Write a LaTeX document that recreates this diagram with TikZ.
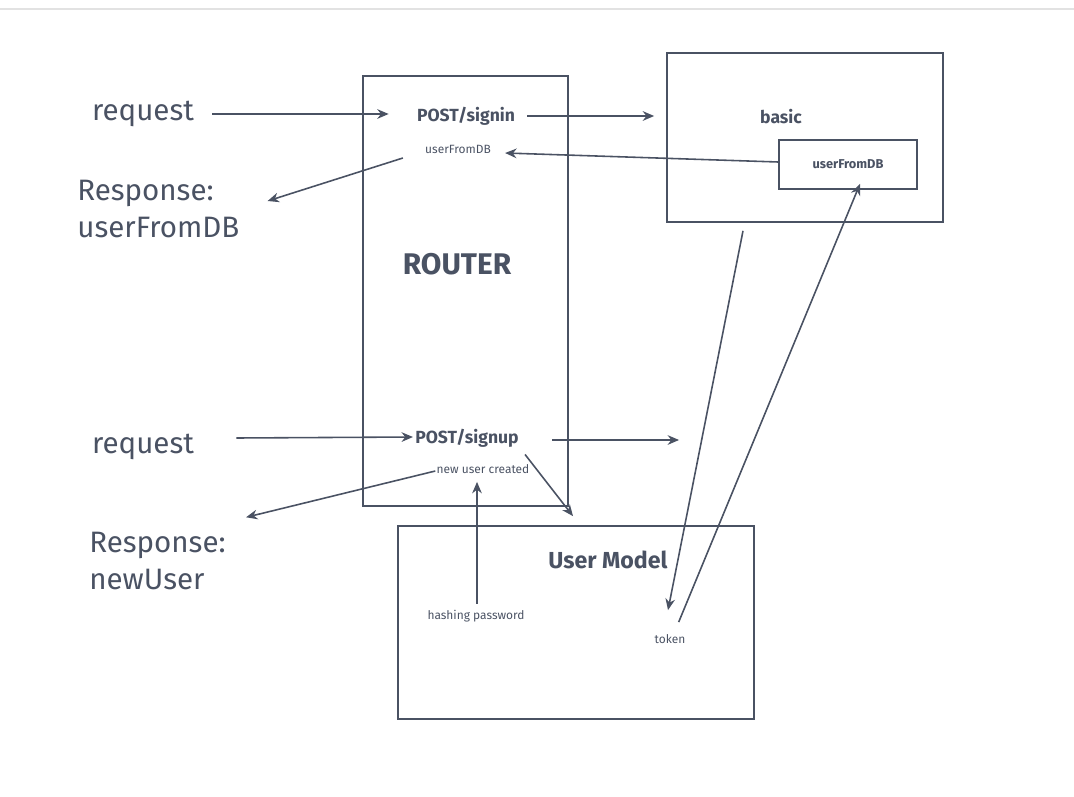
\documentclass[tikz,border=0pt]{standalone}
\usepackage{fontspec}
\setmainfont{Fira Sans}
\usetikzlibrary{arrows.meta}
\definecolor{ink}{HTML}{4A5263}
\definecolor{rulegray}{HTML}{E2E2E2}

\begin{document}
\begin{tikzpicture}[x=0.02cm,y=-0.02cm,
    box/.style={draw=ink,line width=1pt,inner sep=0pt},
    lbl/.style={text=ink,inner sep=0pt},
    big/.style={lbl,font=\fontsize{16.8}{20.5}\selectfont},
    small/.style={lbl,font=\fontsize{6.8}{8}\selectfont},
    arr/.style={draw=ink,line width=0.9pt,-{Stealth[length=6.5pt,width=5.5pt]}}]
    \useasboundingbox (0,0) rectangle (1074,797);
    \draw [rulegray,line width=0.8pt](0,9)--(1074,9);
    \node[box,minimum width=4.1cm,minimum height=8.6cm] (router) at (465.5,291) {};
    \node[box,minimum width=5.52cm,minimum height=3.38cm] (basic) at (805,137.5) {};
    \node[box,minimum width=2.76cm,minimum height=0.98cm,text=ink,font=\bfseries\fontsize{7.3}{8}\selectfont] (basicdb) at (848,164.5) {userFromDB};
    \node[box,minimum width=7.12cm,minimum height=3.86cm] (usermodel) at (576,622.5) {};
    \node[big] (reqin) at (143,114) {request};
    \node[big,anchor=west,align=left] (respin) at (77,209) {Response:\\userFromDB};
    \node[big] (requp) at (143,447) {request};
    \node[big,anchor=west,align=left] (respup) at (89,561) {Response:\\newUser};
    \node[lbl,font=\bfseries\fontsize{10}{11}\selectfont] (signin) at (466,116) {POST/signin};
    \node[small] (signindb) at (458,149) {userFromDB};
    \node[lbl,font=\bfseries\fontsize{17}{19}\selectfont] (routertitle) at (457,264) {ROUTER};
    \node[lbl,font=\bfseries\fontsize{10}{11}\selectfont] (signup) at (467,438) {POST/signup};
    \node[small] (created) at (483,469) {new user created};
    \node[lbl,font=\bfseries\fontsize{10}{11}\selectfont] (basictitle) at (781,117) {basic};
    \node[lbl,font=\bfseries\fontsize{13.2}{15}\selectfont] (modeltitle) at (608,560) {User Model};
    \node[small] (hashing) at (476,616) {hashing password};
    \node[small] (token) at (670,639) {token};
    \draw [arr]([shift={(18,0)}]reqin.east)--([shift={(-28,-2)}]signin.west);
    \draw [arr]([shift={(12,0)}]signin.east)--([shift={(-12,-21.5)}]basic.west);
    \draw [arr]([shift={(0,-2.5)}]basicdb.west)--([shift={(14,4)}]signindb.east);
    \draw [arr]([shift={(-22,9)}]signindb.west)--([shift={(28,-8)}]respin.east);
    \draw [arr]([shift={(42,-9)}]requp.east)--([shift={(-2,-1)}]signup.west);
    \draw [arr]([shift={(33,2)}]signup.east)--([shift={(160,2)}]signup.east);
    \draw [arr]([shift={(6,7)}]signup.south east)--([shift={(-3,-9)}]usermodel.north);
    \draw [arr]([shift={(-1,2)}]created.west)--([shift={(20,-15)}]respup.north east);
    \draw [arr]([shift={(1,-6)}]hashing.north)--([shift={(-6,8)}]created.south);
    \draw [arr]([shift={(-62,8)}]basic.south)--([shift={(-2,-24)}]token.north);
    \draw [arr]([shift={(-7,-12)}]token.north east)--([shift={(12,-6)}]basicdb.south);
\end{tikzpicture}
\end{document}
